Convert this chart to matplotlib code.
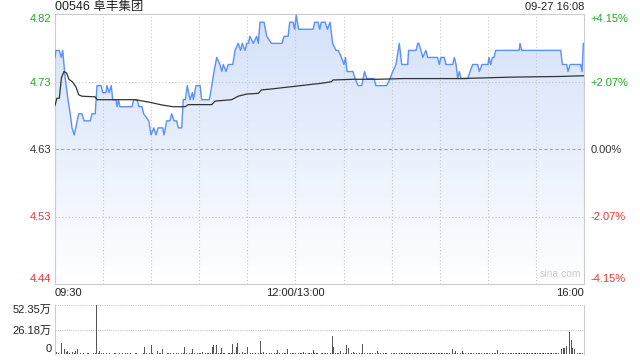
import matplotlib
matplotlib.use('Agg')
import matplotlib.pyplot as plt
from matplotlib.colors import LinearSegmentedColormap
import numpy as np

plt.rcParams['font.family'] = ['Liberation Sans', 'Noto Sans CJK SC', 'DejaVu Sans']

# --- data (minutes after 09:30, lunch break removed) ---
prev_close = 4.63
price_t = [0, 0.6, 2.7, 3.9, 4.8, 6.4, 8.1, 9.5, 10.6, 12, 14.8, 16.8, 18.1, 22, 23.1, 25.1,
           26.2, 28.7, 29.8, 31.8, 32.4, 33.7, 35.1, 36, 38, 38.7, 39.6, 40.5, 48, 49.1, 51.2,
           52.4, 54.3, 55.3, 58.5, 59.9, 61.6, 63, 64.3, 67.2, 68, 69.7, 71.7, 72.8, 74.2, 75.9,
           76.9, 79, 80, 81.3, 82.5, 84.2, 85.7, 86.3, 88, 90.5, 91.5, 96.3, 97.8, 99.2, 100.9,
           102.9, 104, 105, 106.7, 108.1, 110.9, 112.3, 114.3, 115.8, 116.8, 118.5, 119.6, 120.6,
           121.6, 123.7, 125.8, 126.8, 127.9, 130.4, 132.1, 135, 141.6, 142.9, 145.4, 146.4, 148.5,
           149.5, 150.5, 152, 161, 162, 164.1, 165.1, 166.1, 168.6, 169.9, 171.6, 173.2, 175.3,
           176.7, 178.7, 180.3, 181.2, 182.2, 185.9, 187.2, 189.1, 191.3, 192.2, 193.1, 194.5,
           199, 200.2, 206.9, 209, 210.7, 212.7, 214.8, 216.3, 220, 220.6, 225.2, 226.3, 226.9,
           228.3, 229.4, 231.4, 232.5, 238.7, 239.7, 240.8, 242.8, 243.9, 248.1, 249.1, 250.2,
           251.2, 252.2, 253.3, 257.5, 258.9, 260.6, 263.7, 264.7, 266.4, 270.1, 270.7, 271.8,
           272.8, 273.9, 274.9, 289.5, 290.1, 291.1, 315.5, 316.5, 319.2, 320, 321.3, 327.9,
           328.8, 329.6, 330]
price = [4.76, 4.77, 4.77, 4.76, 4.77, 4.73, 4.70, 4.68, 4.66, 4.65, 4.68, 4.68, 4.67, 4.67, 4.68, 4.68,
         4.72, 4.72, 4.71, 4.71, 4.72, 4.71, 4.72, 4.70, 4.70, 4.69, 4.70, 4.69, 4.69, 4.70, 4.70,
         4.69, 4.69, 4.68, 4.67, 4.65, 4.66, 4.65, 4.66, 4.66, 4.65, 4.67, 4.67, 4.68, 4.67, 4.67,
         4.66, 4.66, 4.70, 4.70, 4.72, 4.70, 4.71, 4.70, 4.72, 4.72, 4.70, 4.70, 4.72, 4.74, 4.76,
         4.75, 4.74, 4.75, 4.74, 4.75, 4.75, 4.77, 4.78, 4.77, 4.78, 4.77, 4.78, 4.78,
         4.79, 4.78, 4.79, 4.78, 4.81, 4.81, 4.79, 4.78, 4.78, 4.79, 4.79, 4.81, 4.81,
         4.80, 4.82, 4.80, 4.80, 4.81, 4.81, 4.80, 4.81, 4.81, 4.80, 4.81, 4.78, 4.77,
         4.77, 4.76, 4.75, 4.76, 4.74, 4.74, 4.73, 4.72, 4.72, 4.73, 4.74, 4.73,
         4.73, 4.72, 4.72, 4.73, 4.74, 4.75, 4.78, 4.75, 4.75, 4.77, 4.77, 4.78, 4.78,
         4.77, 4.76, 4.77, 4.76, 4.76, 4.75, 4.76, 4.76, 4.75, 4.75, 4.76, 4.75,
         4.73, 4.74, 4.73, 4.73, 4.74, 4.75, 4.75, 4.74, 4.75, 4.75, 4.76, 4.75,
         4.76, 4.76, 4.77, 4.77, 4.78, 4.77, 4.77, 4.75, 4.75, 4.74, 4.75, 4.75,
         4.74, 4.78, 4.78]

avg_t = [0, 1.2, 2.7, 4, 5.6, 7.2, 8.7, 11, 13.1, 14.8, 16.8, 25.1, 26.2, 49.9, 59.9, 66.7, 73.6,
         81.1, 83.2, 97.8, 99.8, 110.2, 114.3, 119.6, 126.8, 128.9, 134.1, 149.5, 160.9, 165.3,
         172.4, 173.4, 185.9, 201.5, 217.1, 252.6, 283.8, 315, 330]
avg_price = [4.692, 4.702, 4.702, 4.731, 4.740, 4.738, 4.729, 4.725, 4.718, 4.707, 4.705, 4.704,
             4.700, 4.700, 4.696, 4.6925, 4.690, 4.690, 4.693, 4.693, 4.698, 4.700, 4.705, 4.708,
             4.709, 4.714, 4.715, 4.719, 4.722, 4.723, 4.7255, 4.728, 4.729, 4.729, 4.730, 4.730,
             4.732, 4.733, 4.734]

# volume per minute, in 万 shares
volume = [
    12.2, 2.4, 0.8, 0.5, 12.2, 13.0, 5.2, 2.4, 3.5, 1.0, 8.7, 1.7, 0.6, 3.5, 5.2, 22.7, 0.9, 0.5, 0.7, 0.4, 0.6, 0.8, 0.5, 0.4, 0.7, 0.6, 52.35, 0.9, 3.5, 1.2,
    0.8, 0.5, 0.6, 0.4, 0.9, 0.5, 0.3, 0.7, 1.1, 0.5, 0.6, 0.4, 0.8, 0.5, 0.7, 0.9, 0.4, 0.6, 0.5, 0.3, 0.8, 0.6, 0.5, 0.9, 0.4, 0.7, 7.0, 0.8, 2.4, 0.6,
    9.4, 0.9, 0.5, 0.7, 3.5, 0.6, 0.8, 5.2, 6.0, 0.5, 1.2, 0.6, 0.9, 2.1, 0.7, 0.5, 1.0, 0.8, 0.6, 1.5, 0.7, 7.0, 0.9, 14.7, 1.1, 0.6, 5.2, 0.8, 0.5, 0.7,
    0.6, 0.9, 1.8, 0.5, 0.7, 0.8, 1.2, 0.6, 7.0, 9.4, 1.0, 9.4, 0.8, 1.5, 6.0, 0.7, 0.9, 0.5, 1.1, 0.6, 0.8, 10.5, 1.2, 7.0, 11.5, 0.9, 0.6, 2.0, 0.8, 0.7,
    7.0, 1.0, 0.6, 0.8, 0.5, 1.3, 0.7, 0.9, 14.0, 1.1, 2.5, 0.6, 0.8, 0.5, 0.9, 1.2, 0.7, 0.6, 1.0, 4.2, 0.8, 0.5, 1.5, 0.7, 0.9, 5.2, 1.1, 0.6, 0.8, 1.0,
    0.7, 14.0, 1.2, 0.9, 0.6, 2.0, 0.8, 0.5, 1.1, 0.7, 0.9, 4.2, 0.6, 1.0, 0.8, 0.5, 0.7, 1.3, 0.6, 0.9, 0.8, 0.5, 1.0, 19.5, 7.4, 0.9, 1.5, 0.7, 2.8, 1.2,
    0.8, 1.4, 9.9, 6.4, 0.9, 0.7, 1.8, 0.6, 1.1, 2.2, 0.8, 1.5, 11.0, 0.9, 0.7, 1.0, 0.6, 1.2, 0.8, 0.9, 1.1, 3.5, 0.7, 1.0, 0.6, 0.8, 1.3, 0.9, 0.5, 3.5,
    0.8, 1.2, 0.7, 0.9, 1.4, 0.6, 1.0, 0.8, 1.1, 0.7, 0.9, 0.6, 1.2, 0.8, 0.7, 1.0, 0.9, 0.6, 1.1, 0.8, 0.7, 0.9, 1.0, 0.6, 0.8, 1.2, 0.7, 0.9, 0.6, 0.8,
    1.0, 0.7, 0.9, 0.8, 1.1, 0.6, 0.9, 1.4, 5.3, 0.8, 3.0, 1.0, 18.8, 1.2, 3.5, 0.7, 0.9, 0.8, 1.1, 0.6, 0.9, 0.7, 1.0, 0.8, 0.6, 1.2, 0.9, 0.7, 0.8, 1.0,
    0.6, 0.9, 0.8, 1.1, 0.7, 0.9, 4.6, 0.8, 0.6, 1.0, 0.7, 0.9, 0.8, 0.6, 1.0, 0.8, 0.7, 0.9, 1.1, 0.6, 0.8, 0.7, 1.0, 0.9, 0.6, 0.8, 0.7, 1.0, 0.8, 0.9,
    0.7, 0.9, 0.6, 0.8, 1.0, 0.7, 0.9, 0.8, 0.6, 1.0, 0.8, 0.7, 0.9, 1.1, 0.8, 1.5, 5.3, 6.4, 6.4, 8.1, 1.2, 23.0, 14.5, 6.4, 5.3, 1.8, 0.9, 0.7, 0.6, 0.8,
    26.5]

pct_ticks = [-0.0414, -0.0207, 0.0, 0.0207, 0.0414]
price_labels = ['4.44', '4.53', '4.63', '4.73', '4.82']
pct_labels = ['-4.15%', '-2.07%', '0.00%', '+2.07%', '+4.15%']
label_colors = ['#ee3333', '#ee3333', '#333333', '#22aa22', '#22aa22']
x_ticks = [0, 150, 330]
x_labels = ['09:30', '12:00/13:00', '16:00']
vol_max = 52.35

# --- figure ---
fig = plt.figure(figsize=(6.4, 3.6), dpi=100)
ax = fig.add_axes([55/640, 1-284/360, 529/640, 270/360])
axv = fig.add_axes([55/640, 1-354/360, 529/640, 49/360])

ylo = prev_close * (1 + pct_ticks[0])
yhi = prev_close * (1 + pct_ticks[-1])
ytick_vals = [prev_close * (1 + p) for p in pct_ticks]

grid_col = '#c8c8c8'
for m in range(30, 330, 30):
    ax.axvline(m, color=grid_col, lw=0.8, ls=(0, (1, 2)), zorder=1)
for i, v in enumerate(ytick_vals[1:-1]):
    if i == 1:
        ax.axhline(v, color='#aaaaaa', lw=0.8, ls=(0, (3, 2)), zorder=1)
    else:
        ax.axhline(v, color=grid_col, lw=0.8, ls=(0, (1, 2)), zorder=1)

# gradient fill under price line
cmap = LinearSegmentedColormap.from_list('fillgrad', ['#ffffff', '#d3e1f9'])
grad = np.linspace(1, 0, 256).reshape(-1, 1)
im = ax.imshow(grad, extent=[0, 330, ylo, yhi], aspect='auto', cmap=cmap,
               origin='upper', zorder=0.5)
poly = ax.fill_between(price_t, price, ylo, color='none', lw=0)
im.set_clip_path(poly.get_paths()[0], transform=ax.transData)

ax.plot(price_t, price, color='#5b8ff9', lw=1.0, zorder=3)
ax.plot(avg_t, avg_price, color='#333333', lw=0.9, zorder=4)

ax.set_xlim(0, 330)
ax.set_ylim(ylo, yhi)
for s in ax.spines.values():
    s.set_color('#cccccc')

ax.set_xticks(x_ticks)
ax.set_xticklabels(x_labels, fontsize=8, color='#222222')
ax.tick_params(axis='x', length=0, pad=3)
tl = ax.get_xticklabels()
tl[0].set_ha('left')
tl[-1].set_ha('right')

ax.set_yticks(ytick_vals)
ax.set_yticklabels(price_labels, fontsize=8)
ax.tick_params(axis='y', length=0, pad=2.5)
for lab, c in zip(ax.get_yticklabels(), label_colors):
    lab.set_color(c)
ax.get_yticklabels()[0].set_va('bottom')
ax.get_yticklabels()[-1].set_va('top')

ax2 = ax.twinx()
ax2.set_ylim(ylo, yhi)
ax2.set_yticks(ytick_vals)
ax2.set_yticklabels(pct_labels, fontsize=8)
ax2.tick_params(axis='y', length=0, pad=4.5)
for lab, c in zip(ax2.get_yticklabels(), label_colors):
    lab.set_color(c)
ax2.get_yticklabels()[0].set_va('bottom')
ax2.get_yticklabels()[-1].set_va('top')
for s in ax2.spines.values():
    s.set_visible(False)

ax.text(0.955, 0.02, 'sina.com', transform=ax.transAxes, ha='center', va='bottom',
        fontsize=7.5, color='#cccccc')

fig.text(55/640, 1-7/360, '00546 阜丰集团', ha='left', va='center', fontsize=9, color='#222222')
fig.text(584/640, 1-7/360, '09-27 16:08', ha='right', va='center', fontsize=8, color='#222222')

# volume panel
axv.bar(np.arange(len(volume)), volume, width=0.55, color='#555555', zorder=3)
axv.set_xlim(0, 330)
axv.set_ylim(0, vol_max)
axv.axhline(vol_max, color=grid_col, lw=0.8, ls=(0, (1, 1)))
axv.axhline(vol_max / 2, color=grid_col, lw=0.8, ls=(0, (1, 1)))
for k in ['top', 'bottom']:
    axv.spines[k].set_visible(False)
axv.spines['left'].set_color('#cccccc')
axv.spines['right'].set_color('#cccccc')
axv.set_xticks([])
axv.set_yticks([0, vol_max / 2, vol_max])
axv.set_yticklabels(['0', '26.18万', '52.35万'], fontsize=8, color='#222222')
axv.tick_params(axis='y', length=0, pad=2.5)
axv.get_yticklabels()[0].set_va('bottom')
axv.get_yticklabels()[-1].set_va('top')

fig.savefig('out.png', dpi=100)
